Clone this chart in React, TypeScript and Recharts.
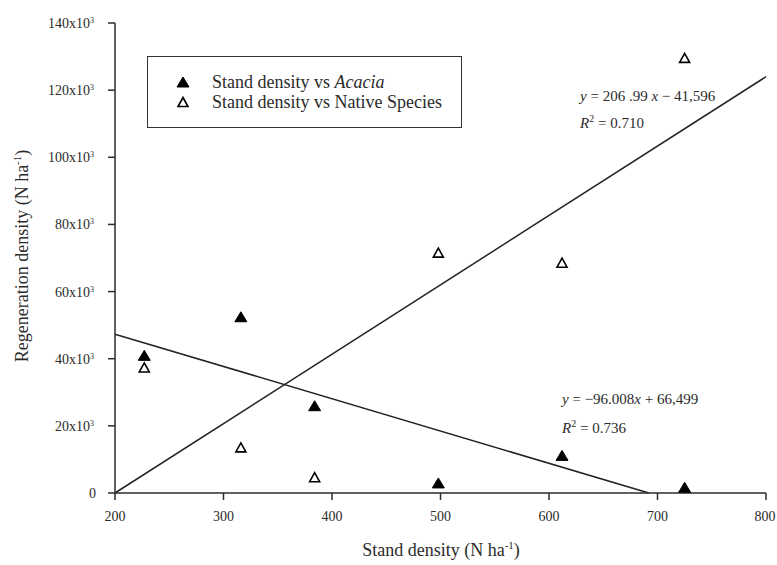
import React from 'react';
import { ScatterChart, Scatter, XAxis, YAxis, ReferenceLine, Label } from 'recharts';

// stand density (N ha-1) and regeneration density (N ha-1)
const standDensity = [227, 316, 384, 498, 612, 725];
const acaciaRegen = [41000, 52500, 26000, 3000, 11200, 1700];
const nativeRegen = [37400, 13600, 4700, 71600, 68600, 129600];

const xTicks = [200, 300, 400, 500, 600, 700, 800];
const yTicks = [0, 20000, 40000, 60000, 80000, 100000, 120000, 140000];

// fitted line end points
const nativeFit = [{ x: 200, y: 0 }, { x: 800, y: 124000 }];
const acaciaFit = [{ x: 200, y: 47300 }, { x: 692, y: 0 }];

const acaciaData = standDensity.map((x, i) => ({ x, y: acaciaRegen[i] }));
const nativeData = standDensity.map((x, i) => ({ x, y: nativeRegen[i] }));

const FONT = '"Liberation Serif", "Times New Roman", serif';
const INK = '#2b2b2b';

const Tri = (props: any) => {
  const { cx, cy, filled } = props;
  const w = filled ? 6 : 5;
  const h = filled ? 10 : 9;
  return (
    <polygon
      points={`${cx},${cy - h / 2} ${cx + w},${cy + h / 2} ${cx - w},${cy + h / 2}`}
      fill={filled ? '#000' : '#fff'}
      stroke="#000"
      strokeWidth={filled ? 1 : 1.6}
    />
  );
};

const XTick = (props: any) => {
  const { x, y, payload } = props;
  return (
    <text x={x} y={y + 19} textAnchor="middle" fontSize={14} fill={INK} fontFamily={FONT}>
      {payload.value}
    </text>
  );
};

const YTick = (props: any) => {
  const { x, y, payload } = props;
  if (payload.value === 0) {
    return (
      <text x={x - 10} y={y + 5} textAnchor="end" fontSize={14} fill={INK} fontFamily={FONT}>0</text>
    );
  }
  return (
    <text x={x - 12} y={y + 5} textAnchor="end" fontSize={14} fill={INK} fontFamily={FONT}>
      {payload.value / 1000}x10
      <tspan dy={-5} fontSize={8}>3</tspan>
    </text>
  );
};

const legendRows = [
  { filled: true, label: <>Stand density vs <i>Acacia</i></> },
  { filled: false, label: <>Stand density vs Native Species</> },
];

const LegendBox = () => (
  <div
    style={{
      position: 'absolute',
      left: 147,
      top: 56,
      border: '1.5px solid #333',
      width: 315,
      height: 72,
      boxSizing: 'border-box',
      fontFamily: FONT,
      fontSize: 18,
      color: INK,
      paddingTop: 15,
      background: '#fff',
    }}
  >
    {legendRows.map((r, i) => (
      <div key={i} style={{ display: 'flex', alignItems: 'center', height: 20 }}>
        <svg width={64} height={20}>
          <Tri cx={35} cy={10} filled={r.filled} />
        </svg>
        <span>{r.label}</span>
      </div>
    ))}
  </div>
);

const note: React.CSSProperties = {
  position: 'absolute',
  fontFamily: FONT,
  fontSize: 15,
  color: INK,
  whiteSpace: 'nowrap',
  lineHeight: '16px',
};

export default function App() {
  return (
    <div style={{ position: 'absolute', left: 0, top: 0, width: 777, height: 565, background: '#fff' }}>
      <ScatterChart width={777} height={565} margin={{ top: 23, right: 11, left: 0, bottom: 0 }}>
        <XAxis
          type="number"
          dataKey="x"
          domain={[200, 800]}
          ticks={xTicks}
          tickSize={7}
          tick={<XTick />}
          height={72}
          stroke={INK}
          strokeWidth={1.5}
          allowDataOverflow
        >
          <Label
            content={() => (
              <text x={441} y={556} textAnchor="middle" fontSize={18} fill={INK} fontFamily={FONT}>
                Stand density (N ha<tspan dy={-7} fontSize={11}>-1</tspan><tspan dy={7}>)</tspan>
              </text>
            )}
          />
        </XAxis>
        <YAxis
          type="number"
          dataKey="y"
          domain={[0, 140000]}
          ticks={yTicks}
          tickSize={7}
          tick={<YTick />}
          width={115}
          stroke={INK}
          strokeWidth={1.5}
          allowDataOverflow
        >
          <Label
            content={() => (
              <text
                x={28}
                y={256}
                transform="rotate(-90 28 256)"
                textAnchor="middle"
                fontSize={18}
                fill={INK}
                fontFamily={FONT}
              >
                Regeneration density (N ha<tspan dy={-7} fontSize={11}>-1</tspan><tspan dy={7}>)</tspan>
              </text>
            )}
          />
        </YAxis>
        <ReferenceLine segment={nativeFit} stroke="#222" strokeWidth={1.5} ifOverflow="visible" />
        <ReferenceLine segment={acaciaFit} stroke="#222" strokeWidth={1.5} ifOverflow="visible" />
        <Scatter
          name="Stand density vs Acacia"
          data={acaciaData}
          isAnimationActive={false}
          shape={(p: any) => <Tri {...p} filled />}
        />
        <Scatter
          name="Stand density vs Native Species"
          data={nativeData}
          isAnimationActive={false}
          shape={(p: any) => <Tri {...p} filled={false} />}
        />
      </ScatterChart>
      <LegendBox />
      <div style={{ ...note, left: 580, top: 88 }}>
        <i>y</i> = 206 .99 <i>x</i> − 41,596
      </div>
      <div style={{ ...note, left: 580, top: 111 }}>
        <i>R</i>
        <sup style={{ fontSize: 10 }}>2</sup> = 0.710
      </div>
      <div style={{ ...note, left: 562, top: 391 }}>
        <i>y</i> = −96.008<i>x</i> + 66,499
      </div>
      <div style={{ ...note, left: 562, top: 416 }}>
        <i>R</i>
        <sup style={{ fontSize: 10 }}>2</sup> = 0.736
      </div>
    </div>
  );
}
